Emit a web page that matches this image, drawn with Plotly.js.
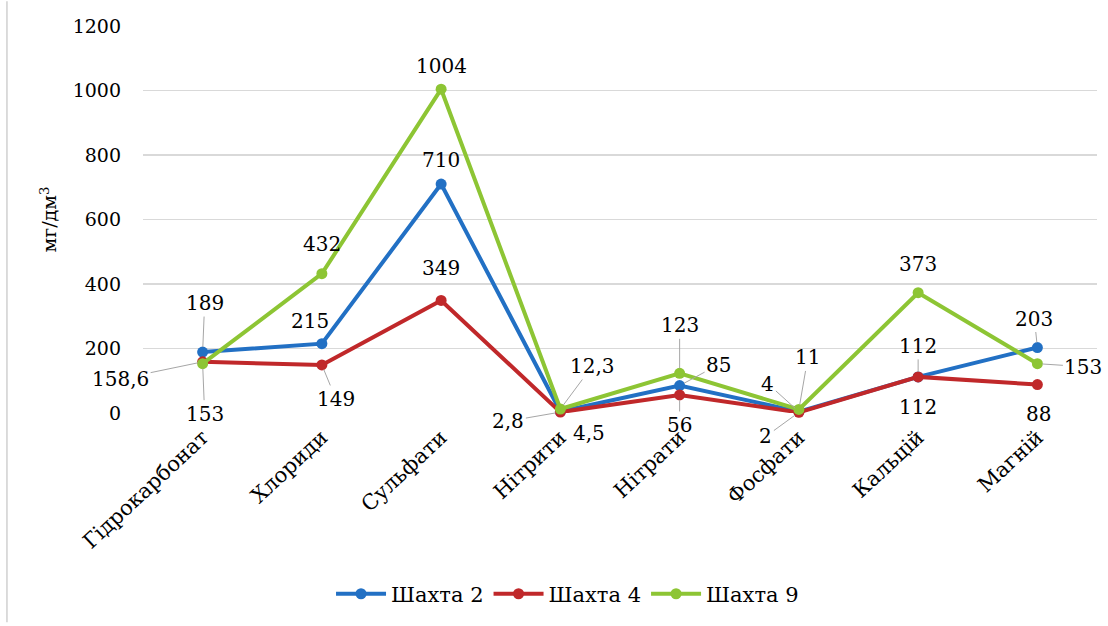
<!DOCTYPE html>
<html>
<head>
<meta charset="utf-8">
<script src="https://cdn.plot.ly/plotly-3.0.1.min.js"></script>
<style>
  html, body { margin: 0; padding: 0; background: #fff; }
  #chart { width: 1108px; height: 626px; }
</style>
</head>
<body>
<div id="chart"></div>
<script>
// ---- data ----
const categories = ["Гідрокарбонат", "Хлориди", "Сульфати", "Нітрити", "Нітрати", "Фосфати", "Кальцій", "Магній"];
const seriesNames = ["Шахта 2", "Шахта 4", "Шахта 9"];
const shakhta2 = [189, 215, 710, 4.5, 85, 4, 112, 203];
const shakhta4 = [158.6, 149, 349, 2.8, 56, 2, 112, 88];
const shakhta9 = [153, 432, 1004, 12.3, 123, 11, 373, 153];
const yTicks = [0, 200, 400, 600, 800, 1000, 1200];

// ---- styles ----
const colors = ["#2270c4", "#c0282a", "#8dc534"];
const serif = "DejaVu Serif";

// label placement: [series index, category index, dx, dy, leader]
const labelPlacement = [
  [0, 0, 2, -49, true],
  [1, 0, -82, 17, true],
  [2, 0, 2, 50, true],
  [2, 1, 0, -30, false],
  [0, 1, -12, -23, false],
  [1, 1, 14, 34, true],
  [2, 2, 0, -23, false],
  [0, 2, 0, -24, false],
  [1, 2, 0, -32, false],
  [2, 3, 32, -43, true],
  [1, 3, -52, 9, true],
  [0, 3, 29, 21, false],
  [2, 4, 0, -48, true],
  [0, 4, 39, -21, true],
  [1, 4, 0, 30, true],
  [2, 5, 9, -52, true],
  [0, 5, -31, -28, true],
  [1, 5, -33, 24, true],
  [2, 6, 0, -29, false],
  [0, 6, 0, -31, true],
  [1, 6, 0, 30, false],
  [0, 7, -3, -29, true],
  [2, 7, 46, 3, true],
  [1, 7, 1, 29, false]
];

const allSeries = [shakhta2, shakhta4, shakhta9];

const fmt = v => String(v).replace(".", ",");

const traces = allSeries.map((vals, i) => ({
  type: "scatter",
  mode: "lines+markers",
  name: seriesNames[i],
  x: categories,
  y: vals,
  line: { color: colors[i], width: 4 },
  marker: { color: colors[i], size: 11 },
  cliponaxis: false
}));

const annotations = labelPlacement.map(([s, c, dx, dy, leader]) => ({
  x: categories[c],
  y: allSeries[s][c],
  xref: "x", yref: "y",
  text: fmt(allSeries[s][c]),
  showarrow: true,
  arrowhead: 0,
  arrowwidth: 1,
  arrowcolor: leader ? "#a6a6a6" : "rgba(0,0,0,0)",
  standoff: 5,
  ax: dx, ay: dy,
  font: { family: serif, size: 20, color: "#000" }
}));

const layout = {
  width: 1108,
  height: 626,
  margin: { l: 143, r: 11, t: 26, b: 210 },
  paper_bgcolor: "#fff",
  plot_bgcolor: "#fff",
  font: { family: serif, color: "#000" },
  showlegend: true,
  legend: {
    orientation: "h",
    x: 0.445, xanchor: "center",
    y: -0.415, yanchor: "top",
    font: { family: serif, size: 21, color: "#000" },
    itemwidth: 50,
    tracegroupgap: 0
  },
  xaxis: {
    type: "category",
    tickangle: -43,
    tickfont: { family: serif, size: 21, color: "#000" },
    showgrid: false,
    zeroline: false,
    showline: false,
    ticks: "",
    ticklabelstandoff: 7,
    range: [-0.5, 7.5]
  },
  yaxis: {
    range: [0, 1200],
    tickvals: yTicks,
    ticktext: yTicks.map(String),
    tickfont: { family: serif, size: 19, color: "#000" },
    showgrid: true,
    gridcolor: "#d9d9d9",
    gridwidth: 1.5,
    zeroline: false,
    showline: false,
    ticks: "",
    ticklabelstandoff: 21,
    title: { text: "мг/дм<sup>3</sup>", font: { family: serif, size: 19, color: "#000" }, standoff: 10 }
  },
  annotations: annotations,
  shapes: [{
    type: "line", xref: "paper", yref: "paper",
    x0: -0.1426, x1: -0.1426, y0: -0.541, y1: 1.064,
    line: { color: "#d0d0d0", width: 1.5 }
  }]
};

Plotly.newPlot("chart", traces, layout, { displayModeBar: false, staticPlot: true });
</script>
</body>
</html>
